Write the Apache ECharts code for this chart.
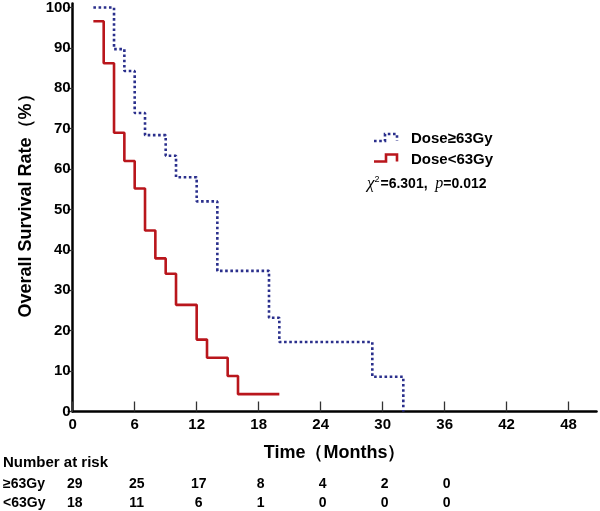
<!DOCTYPE html>
<html>
<head>
<meta charset="utf-8">
<script src="https://cdn.jsdelivr.net/npm/echarts@6/dist/echarts.min.js"></script>
<style>html,body{margin:0;padding:0;background:#fff}#c{width:600px;height:511px}</style>
</head>
<body>
<div id="c"></div>
<script>
const timesHigh = [2, 4, 5, 6, 7, 9, 10, 12, 14, 19, 20, 29, 32];
const survHigh  = [100, 89.7, 84.3, 73.9, 68.4, 63.3, 58.0, 52.0, 34.8, 23.2, 17.2, 8.6, 0];
const timesLow  = [2, 3, 4, 5, 6, 7, 8, 9, 10, 12, 13, 15, 16, 20];
const survLow   = [96.6, 86.2, 69.0, 62.0, 55.2, 44.8, 37.9, 34.1, 26.4, 17.8, 13.3, 8.8, 4.3, 4.3];
const xTicks = [0, 6, 12, 18, 24, 30, 36, 42, 48];
const yTicks = [0, 10, 20, 30, 40, 50, 60, 70, 80, 90, 100];
const groupNames = ['Dose≥63Gy', 'Dose<63Gy'];
const riskTitle = 'Number at risk';
const riskLabels = ['≥63Gy', '<63Gy'];
const riskTimes = [0, 6, 12, 18, 24, 30, 36];
const riskHigh = [29, 25, 17, 8, 4, 2, 0];
const riskLow  = [18, 11, 6, 1, 0, 0, 0];
const statChi = '6.301';
const statP = '0.012';
const xName = 'Time（Months）';
const yName = 'Overall Survival Rate（%）';

const FONT = '"Liberation Sans", Arial, sans-serif';
const BLUE = '#2a2f8c';
const RED = '#b9161c';

const chart = echarts.init(document.getElementById('c'), null, {renderer: 'canvas'});
const zip = (a, b) => a.map((v, i) => [v, b[i]]);

chart.setOption({
  animation: false,
  backgroundColor: '#fff',
  grid: {left: 72.7, right: 3.5, top: 1, bottom: 99.5, containLabel: false},
  xAxis: {
    type: 'value', min: 0, max: 50.7,
    name: xName, nameLocation: 'middle', nameGap: 33,
    nameTextStyle: {fontFamily: FONT, fontSize: 18, fontWeight: 'bold', color: '#000'},
    axisLine: {show: true, onZero: false, lineStyle: {color: '#000', width: 2.5}},
    axisTick: {show: true, inside: true, length: 10, customValues: xTicks, lineStyle: {color: '#333', width: 1.3}},
    axisLabel: {customValues: xTicks, margin: 6, fontFamily: FONT, fontSize: 15, fontWeight: 'bold', color: '#000'},
    splitLine: {show: false}
  },
  yAxis: {
    type: 'value', min: 0, max: 101,
    name: yName, nameLocation: 'middle', nameGap: 26,
    nameTextStyle: {fontFamily: FONT, fontSize: 18, fontWeight: 'bold', color: '#000', padding: [0, 0, 0, 12]},
    axisLine: {show: true, onZero: false, lineStyle: {color: '#000', width: 2.5}},
    axisTick: {show: true, inside: false, length: 5, customValues: yTicks, lineStyle: {color: '#333', width: 1.3}},
    axisLabel: {customValues: yTicks, margin: 2, fontFamily: FONT, fontSize: 15, fontWeight: 'bold', color: '#000'},
    splitLine: {show: false}
  },
  series: [
    {name: groupNames[0], type: 'line', step: 'end', showSymbol: false, symbol: 'none', clip: false,
     data: zip(timesHigh, survHigh), z: 3,
     lineStyle: {color: BLUE, width: 2.6, type: [2.6, 2.6], cap: 'butt'}},
    {name: groupNames[1], type: 'line', step: 'end', showSymbol: false, symbol: 'none', clip: false,
     data: zip(timesLow, survLow), z: 4,
     lineStyle: {color: RED, width: 2.6, type: 'solid'}}
  ]
});

// legend & annotations
const g = [];
const lx = 374, ly1 = 141, ly2 = 161.5;
g.push({type: 'polyline', shape: {points: [[lx, ly1], [lx + 11, ly1], [lx + 11, ly1 - 7], [lx + 23, ly1 - 7], [lx + 23, ly1]]},
  style: {stroke: BLUE, lineWidth: 2.6, lineDash: [2.6, 2.6], fill: null}});
g.push({type: 'polyline', shape: {points: [[lx, ly2], [lx + 12, ly2], [lx + 12, ly2 - 7], [lx + 23, ly2 - 7], [lx + 23, ly2]]},
  style: {stroke: RED, lineWidth: 2.6, fill: null}});
g.push({type: 'text', x: 411, y: ly1 - 2, style: {text: groupNames[0], font: 'bold 15px ' + FONT, fill: '#000', verticalAlign: 'middle'}});
g.push({type: 'text', x: 411, y: ly2 - 2, style: {text: groupNames[1], font: 'bold 15px ' + FONT, fill: '#000', verticalAlign: 'middle'}});
g.push({type: 'text', x: 367, y: 184, style: {
  text: '{chi|χ}{sup|2}{b|=' + statChi + ',  }{p|p}{b|=' + statP + '}',
  verticalAlign: 'middle', fill: '#000',
  rich: {
    chi: {fontFamily: '"Liberation Serif", serif', fontStyle: 'italic', fontSize: 17, fill: '#000'},
    sup: {fontFamily: FONT, fontSize: 9, fill: '#000', verticalAlign: 'top', padding: [0, 1, 8, 0]},
    b: {fontFamily: FONT, fontWeight: 'bold', fontSize: 14, fill: '#000'},
    p: {fontFamily: '"Liberation Serif", serif', fontStyle: 'italic', fontSize: 16, fill: '#000'}
  }
}});

// number at risk table
g.push({type: 'text', x: 3, y: 463, style: {text: riskTitle, font: 'bold 15px ' + FONT, fill: '#000', verticalAlign: 'middle'}});
const rowsY = [484, 503];
[riskHigh, riskLow].forEach((row, r) => {
  g.push({type: 'text', x: 3, y: rowsY[r], style: {text: riskLabels[r], font: 'bold 14px ' + FONT, fill: '#000', verticalAlign: 'middle'}});
  row.forEach((v, i) => {
    const px = chart.convertToPixel({xAxisIndex: 0}, riskTimes[i]) + 2;
    g.push({type: 'text', x: px, y: rowsY[r], style: {text: String(v), font: 'bold 14px ' + FONT, fill: '#000', align: 'center', verticalAlign: 'middle'}});
  });
});
chart.setOption({graphic: g});
</script>
</body>
</html>
